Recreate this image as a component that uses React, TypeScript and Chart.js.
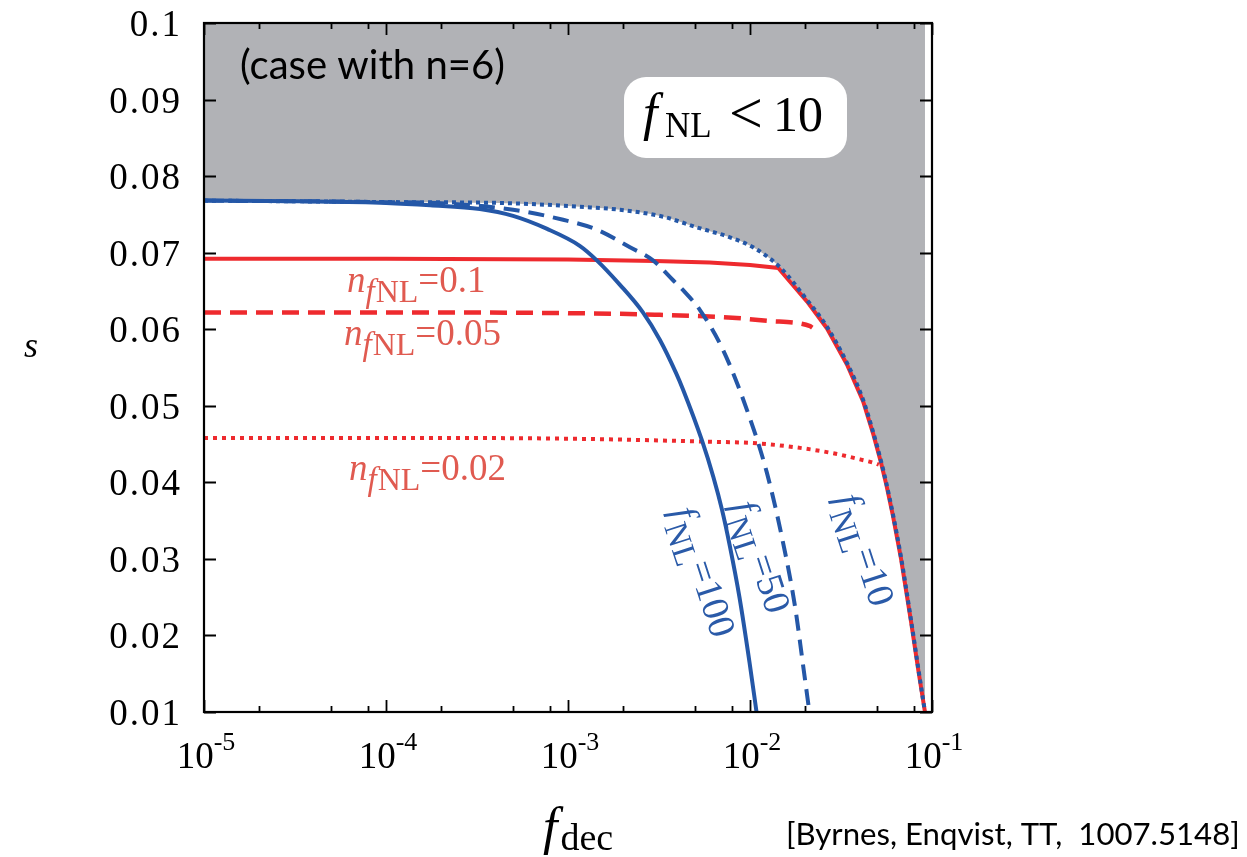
import React, { useEffect, useRef } from 'react';
import { Chart, registerables } from 'chart.js';

Chart.register(...registerables);

// ---------- data ----------
// f_NL = 10 (blue dotted) — also the edge of the excluded (grey) region
const fnl10X = [1e-5, 1.2e-4, 4.2e-4, 7e-4, 1.16e-3, 1.93e-3, 3.33e-3, 5.12e-3, 7.76e-3, 1.04e-2, 1.46e-2, 2.06e-2, 2.65e-2, 3.41e-2, 4.18e-2, 4.77e-2, 5.23e-2, 5.61e-2, 6.08e-2, 6.76e-2, 7.67e-2, 8.43e-2, 9.15e-2];
const fnl10S = [0.0768, 0.0766, 0.0765, 0.0763, 0.076, 0.0756, 0.0747, 0.0733, 0.072, 0.0707, 0.0681, 0.0638, 0.0603, 0.0556, 0.0508, 0.0464, 0.0429, 0.0399, 0.036, 0.0302, 0.022, 0.0155, 0.01];

// f_NL = 50 (blue dashed)
const fnl50X = [1e-5, 1e-4, 2.25e-4, 4.99e-4, 9.4e-4, 1.44e-3, 2.19e-3, 2.93e-3, 3.78e-3, 4.29e-3, 5.31e-3, 7.11e-3, 9.64e-3, 1.24e-2, 1.52e-2, 1.77e-2, 1.95e-2, 2.12e-2];
const fnl50S = [0.0768, 0.0766, 0.0764, 0.0756, 0.0743, 0.073, 0.0707, 0.069, 0.0664, 0.0651, 0.0625, 0.0573, 0.0494, 0.0412, 0.0321, 0.0237, 0.0164, 0.01];

// f_NL = 100 (blue solid)
const fnl100X = [1e-5, 3.36e-5, 1e-4, 1.75e-4, 3.28e-4, 4.99e-4, 7.68e-4, 1.16e-3, 1.44e-3, 1.93e-3, 2.58e-3, 3.2e-3, 3.92e-3, 4.29e-3, 5.44e-3, 6.29e-3, 7.02e-3, 7.76e-3, 8.75e-3, 9.95e-3, 1.086e-2];
const fnl100S = [0.0768, 0.0767, 0.0765, 0.0762, 0.0757, 0.0748, 0.0731, 0.0709, 0.069, 0.0658, 0.0622, 0.0586, 0.0543, 0.0521, 0.0455, 0.0407, 0.0364, 0.0316, 0.025, 0.0164, 0.01];

// n_fNL = 0.1 (red solid)
const n01X = [1e-5, 1e-4, 1e-3, 3e-3, 6e-3, 1e-2, 1.43e-2, 2.06e-2, 2.65e-2, 3.41e-2, 4.18e-2, 4.77e-2, 5.23e-2, 5.61e-2, 6.08e-2, 6.76e-2, 7.67e-2, 8.43e-2, 9.15e-2];
const n01S = [0.0692, 0.0692, 0.0691, 0.0689, 0.0687, 0.0684, 0.068, 0.0636, 0.0601, 0.0554, 0.0506, 0.0462, 0.0427, 0.0397, 0.0358, 0.03, 0.0218, 0.0153, 0.01];

// n_fNL = 0.05 (red dashed)
const n005X = [1e-5, 1e-4, 1e-3, 3e-3, 8e-3, 1.24e-2, 2.14e-2, 2.2e-2];
const n005S = [0.0622, 0.0622, 0.0621, 0.0619, 0.0615, 0.0611, 0.0604, 0.0602];

// n_fNL = 0.02 (red dotted)
const n002X = [1e-5, 1e-4, 1e-3, 6e-3, 1.09e-2, 1.88e-2, 2.86e-2, 4.02e-2, 4.86e-2, 5.1e-2];
const n002S = [0.0458, 0.0458, 0.0457, 0.0453, 0.0451, 0.0445, 0.0438, 0.043, 0.0425, 0.0423];

// axes
const xMajorTicks = [1e-5, 1e-4, 1e-3, 1e-2, 1e-1];
const xTickExponents = ['-5', '-4', '-3', '-2', '-1'];
const xMinorMultipliers = [2, 5, 8];
const yTicks = [0.01, 0.02, 0.03, 0.04, 0.05, 0.06, 0.07, 0.08, 0.09, 0.1];
const yTickLabels = ['0.01', '0.02', '0.03', '0.04', '0.05', '0.06', '0.07', '0.08', '0.09', '0.1'];

// ---------- styling ----------
const BLUE = '#2457a7';
const RED = '#ee2a2e';
const RED_TEXT = '#e05a50';
const BLUE_TEXT = '#2a5aa8';
const GREY = '#b1b2b6';
const SERIF = '"Liberation Serif", "Times New Roman", serif';
const SANS = 'Lato, "Open Sans", sans-serif';

const pts = (xs: number[], ys: number[]) => xs.map((x, i) => ({ x, y: ys[i] }));

type Seg = { t: string; f: string; dy?: number; dx?: number; ls?: number };

function drawSegs(ctx: CanvasRenderingContext2D, segs: Seg[], x: number, y: number, align: 'left' | 'center', angle: number, color: string) {
  ctx.save();
  ctx.translate(x, y);
  ctx.rotate(angle);
  ctx.fillStyle = color;
  ctx.textBaseline = 'alphabetic';
  ctx.textAlign = 'left';
  const c: any = ctx;
  let w = 0;
  for (const s of segs) {
    ctx.font = s.f;
    c.letterSpacing = `${s.ls || 0}px`;
    w += ctx.measureText(s.t).width + (s.dx || 0);
  }
  let cx = align === 'center' ? -w / 2 : 0;
  for (const s of segs) {
    ctx.font = s.f;
    c.letterSpacing = `${s.ls || 0}px`;
    cx += s.dx || 0;
    ctx.fillText(s.t, cx, s.dy || 0);
    cx += ctx.measureText(s.t).width;
  }
  c.letterSpacing = '0px';
  ctx.restore();
}

function fitText(ctx: CanvasRenderingContext2D, text: string, family: string, x: number, y: number, width: number, color: string) {
  ctx.save();
  ctx.font = `100px ${family}`;
  const w100 = ctx.measureText(text).width;
  const size = (100 * width) / w100;
  ctx.font = `${size}px ${family}`;
  ctx.fillStyle = color;
  ctx.textAlign = 'left';
  ctx.textBaseline = 'alphabetic';
  ctx.fillText(text, x, y);
  ctx.restore();
}

const decorPlugin = {
  id: 'decor',
  afterDraw(chart: any) {
    const ctx: CanvasRenderingContext2D = chart.ctx;
    const { left, right, top, bottom } = chart.chartArea;
    const xs = chart.scales.x;
    const ys = chart.scales.y;
    ctx.save();

    // ticks (inward, on all four sides)
    ctx.strokeStyle = '#000';
    ctx.lineWidth = 1.8;
    ctx.beginPath();
    xMajorTicks.forEach((v, i) => {
      const px = Math.round(xs.getPixelForValue(v)) + 0.5;
      ctx.moveTo(px, bottom); ctx.lineTo(px, bottom - 12);
      ctx.moveTo(px, top); ctx.lineTo(px, top + 12);
      if (i < xMajorTicks.length - 1) {
        xMinorMultipliers.forEach((m) => {
          const p = Math.round(xs.getPixelForValue(v * m)) + 0.5;
          ctx.moveTo(p, bottom); ctx.lineTo(p, bottom - 6);
          ctx.moveTo(p, top); ctx.lineTo(p, top + 6);
        });
      }
    });
    yTicks.forEach((v) => {
      const py = Math.round(ys.getPixelForValue(v)) + 0.5;
      ctx.moveTo(left, py); ctx.lineTo(left + 12, py);
      ctx.moveTo(right, py); ctx.lineTo(right - 12, py);
    });
    ctx.stroke();

    // frame
    ctx.lineWidth = 2.2;
    ctx.strokeRect(left, top, right - left, bottom - top);

    // y tick labels (right-aligned)
    yTicks.forEach((v, i) => {
      ctx.font = `37px ${SERIF}`;
      (ctx as any).letterSpacing = '2px';
      const w = ctx.measureText(yTickLabels[i]).width;
      drawSegs(ctx, [{ t: yTickLabels[i], f: `37px ${SERIF}`, ls: 2 }], left - 24 - w + 2, ys.getPixelForValue(v) + 13, 'left', 0, '#000');
    });
    (ctx as any).letterSpacing = '0px';

    // x tick labels 10^n
    xMajorTicks.forEach((v, i) => {
      drawSegs(ctx, [
        { t: '10', f: `37px ${SERIF}` },
        { t: xTickExponents[i], f: `26px ${SERIF}`, dy: -18 },
      ], xs.getPixelForValue(v) + 2, bottom + 56, 'center', 0, '#000');
    });

    // axis titles
    drawSegs(ctx, [{ t: 's', f: `italic 36px ${SERIF}` }], 24, 357, 'left', 0, '#000');
    drawSegs(ctx, [
      { t: 'f', f: `italic 52px ${SERIF}` },
      { t: 'dec', f: `38px ${SERIF}`, dy: 6, dx: 3 },
    ], 543, 844, 'left', 0, '#000');

    // citation and case note
    fitText(ctx, '[Byrnes, Enqvist, TT,  1007.5148]', SANS, 786, 845, 454, '#000');
    fitText(ctx, '(case with n=6)', SANS, 240, 79, 265, '#000');

    // rounded box: f_NL < 10
    ctx.fillStyle = '#fff';
    ctx.beginPath();
    (ctx as any).roundRect(624, 77, 223, 81, 22);
    ctx.fill();
    drawSegs(ctx, [{ t: 'f', f: `italic 52px ${SERIF}` }], 643, 130, 'left', 0, '#000');
    drawSegs(ctx, [{ t: 'NL', f: `35px ${SERIF}` }], 665, 137, 'left', 0, '#000');
    drawSegs(ctx, [{ t: '<', f: `60px ${SERIF}` }], 729, 133, 'left', 0, '#000');
    drawSegs(ctx, [{ t: '10', f: `50px ${SERIF}` }], 773, 131, 'left', 0, '#000');

    // red labels n_fNL
    const nLabel = (val: string, x: number, y: number) => drawSegs(ctx, [
      { t: 'n', f: `italic 37px ${SERIF}` },
      { t: 'f', f: `italic 33px ${SERIF}`, dy: 10, dx: 0 },
      { t: 'NL', f: `32px ${SERIF}`, dy: 10, dx: 1 },
      { t: '=' + val, f: `37px ${SERIF}` },
    ], x, y, 'left', 0, RED_TEXT);
    nLabel('0.1', 347, 292);
    nLabel('0.05', 344, 345);
    nLabel('0.02', 349, 480);

    // blue rotated labels f_NL
    const ang = (72 * Math.PI) / 180;
    const fLabel = (val: string, x: number, y: number) => drawSegs(ctx, [
      { t: 'f', f: `italic 38px ${SERIF}`, dy: 11 },
      { t: 'NL', f: `33px ${SERIF}`, dy: 22, dx: 2 },
      { t: '=' + val, f: `38px ${SERIF}`, dy: 11 },
    ], x, y, 'center', ang, BLUE_TEXT);
    fLabel('100', 702, 572);
    fLabel('50', 760, 557);
    fLabel('10', 864, 550);

    ctx.restore();
  },
};

export default function App() {
  const ref = useRef<HTMLCanvasElement | null>(null);

  useEffect(() => {
    if (!ref.current) return;
    const line = { pointRadius: 0, pointHoverRadius: 0, fill: false, cubicInterpolationMode: 'monotone' as const };
    const chart = new Chart(ref.current, {
      type: 'line',
      data: {
        datasets: [
          { ...line, label: 'f_NL=10', data: pts(fnl10X, fnl10S), borderColor: BLUE, borderWidth: 4, borderDash: [4, 4] },
          { ...line, label: 'f_NL=50', data: pts(fnl50X, fnl50S), borderColor: BLUE, borderWidth: 4, borderDash: [16, 9] },
          { ...line, label: 'f_NL=100', data: pts(fnl100X, fnl100S), borderColor: BLUE, borderWidth: 4 },
          { ...line, label: 'n_fNL=0.1', data: pts(n01X, n01S), borderColor: RED, borderWidth: 4, cubicInterpolationMode: 'default', tension: 0 },
          { ...line, label: 'n_fNL=0.05', data: pts(n005X, n005S), borderColor: RED, borderWidth: 4.5, borderDash: [17, 9] },
          { ...line, label: 'n_fNL=0.02', data: pts(n002X, n002S), borderColor: RED, borderWidth: 4, borderDash: [4, 5] },
          { ...line, label: 'excluded', data: pts(fnl10X, fnl10S), borderWidth: 0, borderColor: 'rgba(0,0,0,0)', backgroundColor: GREY, fill: 'end' },
        ],
      },
      options: {
        responsive: false,
        animation: false,
        events: [],
        layout: { padding: { left: 204, top: 23, right: 1247 - 932, bottom: 857 - 712 } },
        scales: {
          x: { type: 'logarithmic', min: 1e-5, max: 1e-1, display: false },
          y: { type: 'linear', min: 0.01, max: 0.1, display: false },
        },
        plugins: {
          legend: { display: false },
          tooltip: { enabled: false },
          filler: { drawTime: 'beforeDatasetsDraw' },
        },
      } as any,
      plugins: [decorPlugin],
    });
    return () => chart.destroy();
  }, []);

  return (
    <div style={{ position: 'absolute', left: 0, top: 0, width: 1247, height: 857, background: '#fff' }}>
      <canvas ref={ref} width={1247} height={857} style={{ display: 'block' }} />
    </div>
  );
}
